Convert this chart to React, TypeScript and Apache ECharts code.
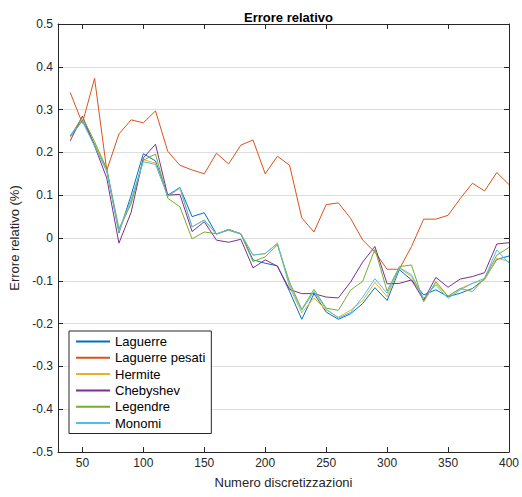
import React, { useEffect, useRef } from "react";
import * as echarts from "echarts";

const xValues = [40, 50, 60, 70, 80, 90, 100, 110, 120, 130, 140, 150, 160, 170, 180, 190, 200, 210, 220, 230, 240, 250, 260, 270, 280, 290, 300, 310, 320, 330, 340, 350, 360, 370, 380, 390, 400];
const xTicks = [50, 100, 150, 200, 250, 300, 350, 400];

const laguerre = [0.236, 0.275, 0.218, 0.16, 0.012, 0.1, 0.197, 0.18, 0.1, 0.118, 0.05, 0.059, 0.009, 0.02, 0.01, -0.051, -0.059, -0.065, -0.125, -0.19, -0.13, -0.173, -0.19, -0.177, -0.153, -0.116, -0.146, -0.074, -0.098, -0.133, -0.121, -0.137, -0.129, -0.118, -0.096, -0.05, -0.042];
const laguerrePesati = [0.34, 0.268, 0.373, 0.158, 0.243, 0.276, 0.269, 0.297, 0.203, 0.17, 0.159, 0.15, 0.198, 0.173, 0.217, 0.229, 0.15, 0.191, 0.17, 0.047, 0.014, 0.078, 0.082, 0.046, -0.005, -0.033, -0.073, -0.073, -0.02, 0.044, 0.044, 0.053, 0.092, 0.128, 0.11, 0.153, 0.125];
const hermite = [0.236, 0.278, 0.22, 0.158, 0.015, 0.085, 0.183, 0.175, 0.097, 0.116, 0.026, 0.042, 0.009, 0.02, 0.01, -0.04, -0.037, -0.013, -0.115, -0.175, -0.14, -0.168, -0.185, -0.169, -0.146, -0.104, -0.137, -0.07, -0.09, -0.145, -0.106, -0.136, -0.118, -0.106, -0.098, -0.047, -0.055];
const chebyshev = [0.227, 0.285, 0.215, 0.14, -0.012, 0.06, 0.187, 0.219, 0.1, 0.102, 0.015, 0.038, -0.005, -0.01, -0.003, -0.07, -0.051, -0.066, -0.12, -0.13, -0.13, -0.138, -0.14, -0.103, -0.056, -0.02, -0.107, -0.106, -0.098, -0.145, -0.092, -0.115, -0.096, -0.09, -0.081, -0.014, -0.011];
const legendre = [0.238, 0.283, 0.225, 0.162, 0.022, 0.08, 0.182, 0.196, 0.093, 0.073, -0.002, 0.014, 0.01, 0.018, 0.009, -0.055, -0.044, -0.016, -0.103, -0.167, -0.12, -0.164, -0.169, -0.122, -0.101, -0.026, -0.124, -0.067, -0.063, -0.149, -0.102, -0.136, -0.118, -0.125, -0.094, -0.04, -0.022];
const monomi = [0.24, 0.272, 0.215, 0.155, 0.018, 0.09, 0.178, 0.172, 0.098, 0.118, 0.026, 0.042, 0.009, 0.02, 0.01, -0.04, -0.036, -0.012, -0.11, -0.169, -0.125, -0.166, -0.187, -0.174, -0.138, -0.095, -0.129, -0.069, -0.086, -0.141, -0.11, -0.141, -0.121, -0.106, -0.094, -0.028, -0.059];

const seriesNames = ["Laguerre", "Laguerre pesati", "Hermite", "Chebyshev", "Legendre", "Monomi"];
const seriesValues = [laguerre, laguerrePesati, hermite, chebyshev, legendre, monomi];
const seriesColors = ["#0072BD", "#D95319", "#EDB120", "#7E2F8E", "#77AC30", "#4DBEEE"];

export default function App() {
  const ref = useRef<HTMLDivElement>(null);
  useEffect(() => {
    if (!ref.current) return;
    const chart = echarts.init(ref.current, null, { renderer: "svg" });
    const font = "'Liberation Sans', Arial, Helvetica, sans-serif";
    const axisColor = "#262626";
    const fmtY = (v: number) => (Math.abs(v) < 1e-9 ? "0" : v.toFixed(1));
    chart.setOption({
      animation: false,
      backgroundColor: "#ffffff",
      title: {
        text: "Errore relativo",
        left: 283.5,
        top: 6,
        textAlign: "center",
        textStyle: { fontFamily: font, fontSize: 13, fontWeight: "bold", color: "#000" },
      },
      grid: { left: 58, right: 13, top: 24, bottom: 45, containLabel: false },
      legend: {
        orient: "vertical",
        left: 69,
        top: 331,
        padding: [4, 6, 4, 6],
        itemWidth: 34,
        itemHeight: 14,
        itemGap: 3.3,
        borderColor: axisColor,
        borderWidth: 1,
        backgroundColor: "#ffffff",
        itemStyle: { opacity: 0 },
        textStyle: { fontFamily: font, fontSize: 13, color: "#000" },
        data: seriesNames,
      },
      xAxis: [
        {
          type: "value",
          min: 30,
          max: 400,
          position: "bottom",
          name: "Numero discretizzazioni",
          nameLocation: "middle",
          nameGap: 24,
          nameTextStyle: { fontFamily: font, fontSize: 13, color: axisColor },
          axisLine: { show: true, onZero: false, lineStyle: { color: axisColor, width: 1 } },
          axisTick: { show: true, inside: true, length: 5, customValues: xTicks, lineStyle: { color: axisColor } },
          axisLabel: { customValues: xTicks, fontFamily: font, fontSize: 12, color: axisColor, margin: 5 },
          splitLine: { show: false },
        },
        {
          type: "value",
          min: 30,
          max: 400,
          position: "top",
          axisLine: { show: true, onZero: false, lineStyle: { color: axisColor, width: 1 } },
          axisTick: { show: true, inside: true, length: 5, customValues: xTicks, lineStyle: { color: axisColor } },
          axisLabel: { show: false, customValues: xTicks },
          splitLine: { show: false },
        },
      ],
      yAxis: [
        {
          type: "value",
          min: -0.5,
          max: 0.5,
          interval: 0.1,
          position: "left",
          name: "Errore relativo (%)",
          nameLocation: "middle",
          nameGap: 32,
          nameTextStyle: { fontFamily: font, fontSize: 13, color: axisColor },
          axisLine: { show: true, onZero: false, lineStyle: { color: axisColor, width: 1 } },
          axisTick: { show: true, inside: true, length: 5, lineStyle: { color: axisColor } },
          axisLabel: { fontFamily: font, fontSize: 12, color: axisColor, margin: 5, formatter: fmtY },
          splitLine: { show: true, lineStyle: { color: "#dedede", width: 1 } },
        },
        {
          type: "value",
          min: -0.5,
          max: 0.5,
          interval: 0.1,
          position: "right",
          axisLine: { show: true, onZero: false, lineStyle: { color: axisColor, width: 1 } },
          axisTick: { show: true, inside: true, length: 5, lineStyle: { color: axisColor } },
          axisLabel: { show: false },
          splitLine: { show: false },
        },
      ],
      series: seriesNames.map((name, i) => ({
        name,
        type: "line",
        xAxisIndex: 0,
        yAxisIndex: 0,
        symbol: "none",
        color: seriesColors[i],
        lineStyle: { color: seriesColors[i], width: 1 },
        data: xValues.map((x, j) => [x, seriesValues[i][j]]),
      })),
    });
    return () => chart.dispose();
  }, []);
  return <div ref={ref} style={{ position: "fixed", left: 0, top: 0, width: 522, height: 497 }} />;
}
